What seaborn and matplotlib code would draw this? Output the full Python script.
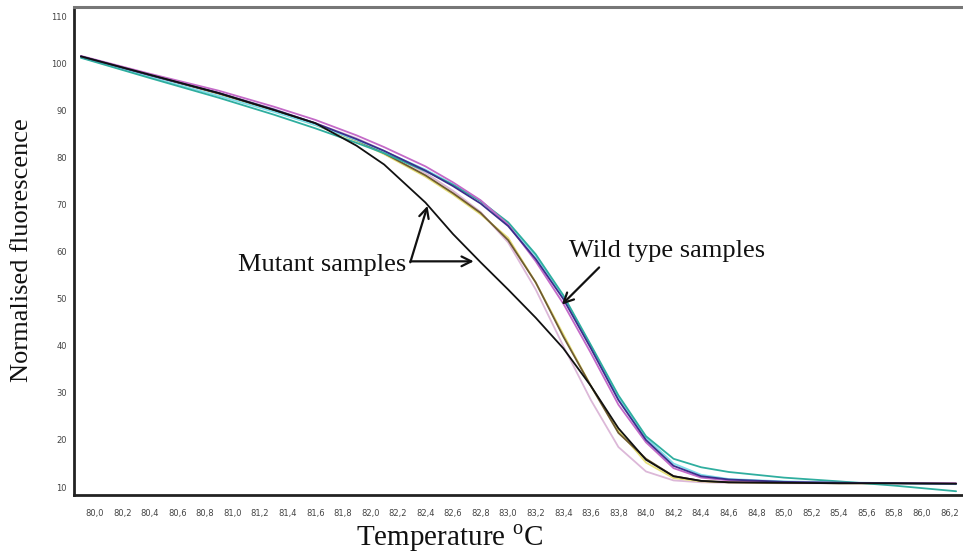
import numpy as np
import pandas as pd
import matplotlib
matplotlib.use("Agg")
import matplotlib.pyplot as plt
from matplotlib.ticker import FuncFormatter
import seaborn as sns

# ---------------- data ----------------
temperature = [79.9, 80.4, 80.9, 81.3, 81.6, 81.9, 82.1, 82.4, 82.6, 82.8, 83.0, 83.2,
               83.4, 83.6, 83.8, 84.0, 84.2, 84.4, 84.6, 85.0, 85.4, 85.8, 86.25]

wt_navy = [101.6, 97.6, 93.8, 90.3, 87.4, 84.0, 81.5, 77.3, 74.0, 70.3, 65.5, 58.5,
           50.0, 39.5, 28.5, 20.0, 14.5, 12.3, 11.6, 11.1, 10.9, 10.8, 10.7]
wt_magenta = [101.7, 97.9, 94.3, 90.9, 88.1, 84.8, 82.3, 78.2, 74.8, 71.0, 65.8, 58.0,
              49.0, 38.5, 27.5, 19.5, 14.0, 12.0, 11.4, 11.0, 10.9, 10.8, 10.8]
wt_teal = [101.3, 97.0, 92.8, 89.2, 86.3, 83.2, 81.0, 77.2, 74.3, 70.8, 66.3, 59.5,
           50.8, 40.2, 29.5, 20.8, 16.0, 14.2, 13.2, 12.0, 11.2, 10.3, 9.1]
wt_cyan = [101.4, 97.2, 93.2, 89.8, 87.0, 83.8, 81.4, 77.5, 74.4, 70.9, 66.0, 59.2,
           50.5, 40.0, 29.0, 20.5, 15.0, 12.6, 11.7, 11.2, 11.0, 10.8, 10.6]
mut_black = [101.6, 97.7, 93.8, 90.2, 87.4, 82.6, 78.6, 70.5, 63.8, 57.8, 52.0, 46.0,
             39.5, 31.5, 22.5, 15.8, 12.3, 11.3, 11.0, 10.9, 10.8, 10.8, 10.7]
mut_yellow = [101.5, 97.6, 93.6, 90.0, 87.0, 83.6, 80.8, 76.0, 72.2, 68.0, 63.0, 53.5,
              42.5, 31.5, 22.0, 15.2, 11.9, 11.2, 11.0, 10.9, 10.8, 10.8, 10.7]
mut_brown = [101.5, 97.6, 93.7, 90.1, 87.1, 83.8, 81.0, 76.3, 72.5, 68.3, 62.5, 53.5,
             42.0, 31.5, 21.5, 16.0, 12.3, 11.3, 11.0, 10.9, 10.8, 10.8, 10.7]
mut_pink = [101.5, 97.7, 93.9, 90.4, 87.4, 84.2, 81.5, 76.8, 73.0, 68.5, 62.0, 52.0,
            40.0, 28.5, 18.5, 13.3, 11.4, 11.0, 10.9, 10.8, 10.8, 10.8, 10.7]

series_names = ["pink", "yellow", "brown", "cyan", "teal", "magenta", "navy", "black"]
series_values = [mut_pink, mut_yellow, mut_brown, wt_cyan, wt_teal, wt_magenta, wt_navy, mut_black]
series_colors = ["#dcb8d8", "#e6df7a", "#6e5a30", "#7fdcea", "#2fae9f", "#c46ac8", "#3a2f8c", "#111111"]

x_ticks = [round(80.0 + 0.2 * i, 1) for i in range(32)]
y_ticks = [10, 20, 30, 40, 50, 60, 70, 80, 90, 100, 110]

x_label = "Temperature $^{\\mathrm{o}}$C"
y_label = "Normalised fluorescence"
mutant_text = "Mutant samples"
wild_text = "Wild type samples"

# ---------------- frame ----------------
rows = []
for name, vals in zip(series_names, series_values):
    for t, v in zip(temperature, vals):
        rows.append({"T": t, "F": v, "sample": name})
df = pd.DataFrame(rows)

sns.set_style("white")
plt.rcParams["font.family"] = ["DejaVu Sans"]
plt.rcParams["mathtext.fontset"] = "custom"
plt.rcParams["mathtext.rm"] = "Liberation Serif"

fig = plt.figure(figsize=(9.63, 5.53), dpi=100)
ax = fig.add_axes([74 / 963, 1 - 495 / 553, (963 - 74) / 963, (495 - 7) / 553])

sns.lineplot(data=df, x="T", y="F", hue="sample", hue_order=series_names,
             palette=dict(zip(series_names, series_colors)), ax=ax,
             linewidth=1.3, legend=False, sort=False, estimator=None)

ax.set_xlim(79.85, 86.3)
ax.set_ylim(8.3, 112.1)
ax.set_xticks(x_ticks)
ax.set_yticks(y_ticks)
ax.xaxis.set_major_formatter(FuncFormatter(lambda v, p: f"{v:.1f}".replace(".", ",")))
ax.yaxis.set_major_formatter(FuncFormatter(lambda v, p: f"{int(round(v))}"))
ax.tick_params(axis="both", which="major", labelsize=6, colors="#555555",
               length=3, width=0.8, direction="out", labelcolor="#444444")
ax.tick_params(axis="x", pad=7)
ax.tick_params(axis="y", pad=2)
ax.set_xlabel("")
ax.set_ylabel("")

for s in ["left", "bottom"]:
    ax.spines[s].set_color("#222222")
    ax.spines[s].set_linewidth(2.0)
ax.spines["top"].set_color("#777777")
ax.spines["top"].set_linewidth(2.2)
ax.spines["right"].set_visible(False)

serif = ["Liberation Serif", "DejaVu Serif"]
fig.text(450 / 963, 1 - 538 / 553, x_label, ha="center", va="center",
         fontsize=21, family=serif, color="#111111")
fig.text(22 / 963, 1 - 250 / 553, y_label, ha="center", va="center",
         rotation=90, fontsize=19, family=serif, color="#111111")

# annotations
ax.text(82.26, 57.2, mutant_text, ha="right", va="center", fontsize=19,
        family=serif, color="#111111")
arrow_kw = dict(arrowstyle="->,head_length=0.7,head_width=0.35", color="#111111", lw=1.6,
                shrinkA=0, shrinkB=0)
ax.annotate("", xy=(82.415, 69.8), xytext=(82.29, 57.8), arrowprops=arrow_kw)
ax.annotate("", xy=(82.75, 58.0), xytext=(82.29, 58.0), arrowprops=arrow_kw)

ax.text(84.15, 60.3, wild_text, ha="center", va="center", fontsize=19,
        family=serif, color="#111111")
ax.annotate("", xy=(83.39, 48.8), xytext=(83.66, 56.7), arrowprops=arrow_kw)

fig.savefig("out.png", dpi=100)
